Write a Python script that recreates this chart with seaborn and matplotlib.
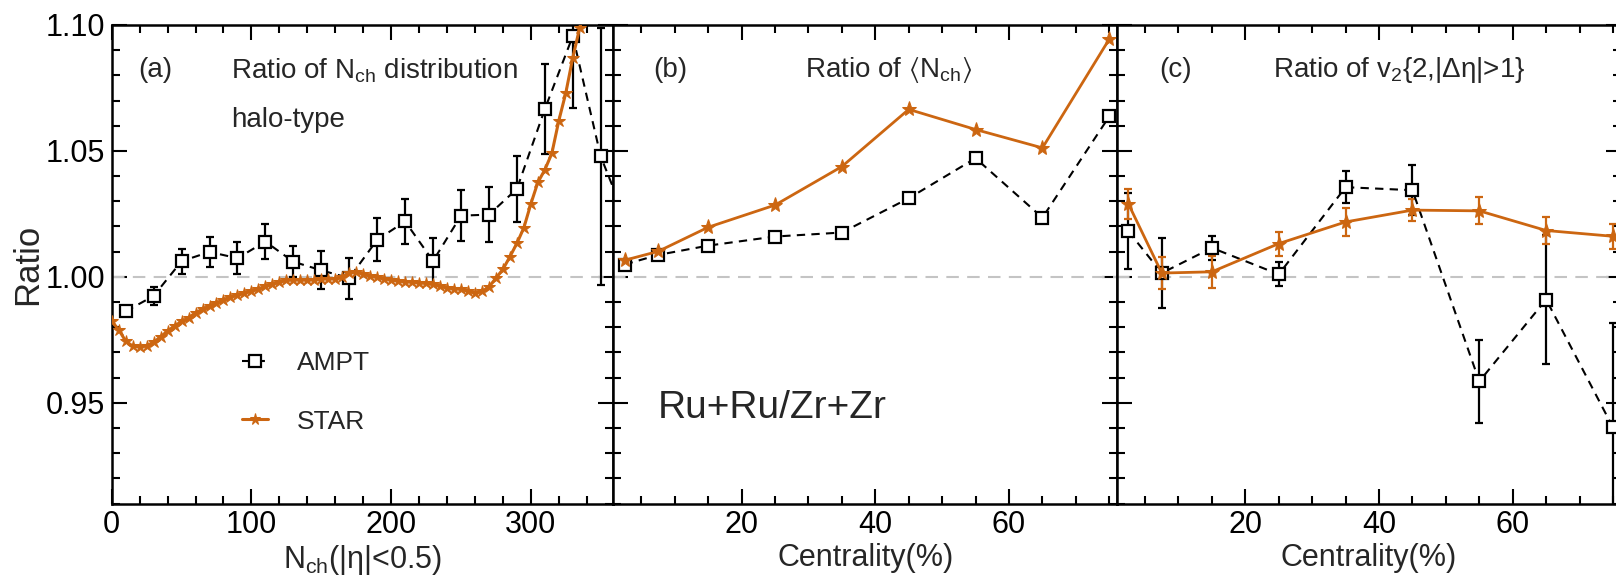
import matplotlib
matplotlib.use("Agg")
import matplotlib.pyplot as plt
import seaborn as sns
import pandas as pd
from matplotlib.ticker import MultipleLocator, FormatStrFormatter

# ---------------- data ----------------
# panel (a): ratio of Nch distribution
nch_ampt = [10, 30, 50, 70, 90, 110, 130, 150, 170, 190, 210, 230, 250, 270, 290, 310, 330, 350, 370]
ratio_ampt_a = [0.9863, 0.9924, 1.0062, 1.0099, 1.0074, 1.0140, 1.0060, 1.0026, 0.9995, 1.0147,
                1.0220, 1.0063, 1.0243, 1.0247, 1.0349, 1.0666, 1.0956, 1.0478, 1.0200]
err_ampt_a = [0.0012, 0.0035, 0.0050, 0.0058, 0.0063, 0.0068, 0.0062, 0.0075, 0.0081, 0.0085,
              0.0090, 0.0090, 0.0100, 0.0110, 0.0130, 0.0178, 0.0287, 0.0512, 0.0500]

nch_star = [0, 5, 10, 15, 20, 25, 30, 35, 40, 45, 50, 55, 60, 65, 70, 75, 80, 85, 90, 95,
            100, 105, 110, 115, 120, 125, 130, 135, 140, 145, 150, 155, 160, 165, 170, 175,
            180, 185, 190, 195, 200, 205, 210, 215, 220, 225, 230, 235, 240, 245, 250, 255,
            260, 265, 270, 275, 280, 285, 290, 295, 300, 305, 310, 315, 320, 325, 330, 335,
            340, 345]
ratio_star_a = [0.9823, 0.9790, 0.9745, 0.9725, 0.9723, 0.9727, 0.9740, 0.9762, 0.9785, 0.9805,
                0.9823, 0.9838, 0.9857, 0.9872, 0.9885, 0.9897, 0.9910, 0.9920, 0.9928, 0.9936,
                0.9945, 0.9953, 0.9962, 0.9970, 0.9980, 0.9986, 0.9988, 0.9988, 0.9987, 0.9989,
                0.9991, 0.9993, 0.9992, 1.0000, 1.0016, 1.0020, 1.0012, 1.0004, 0.9998, 0.9993,
                0.9988, 0.9984, 0.9981, 0.9979, 0.9977, 0.9974, 0.9970, 0.9963, 0.9957, 0.9953,
                0.9951, 0.9943, 0.9937, 0.9942, 0.9960, 0.9995, 1.0030, 1.0080, 1.0133, 1.0195,
                1.0290, 1.0375, 1.0425, 1.0490, 1.0620, 1.0730, 1.0870, 1.0990, 1.1100, 1.1220]

# panel (b): ratio of <Nch>
centrality = [2.5, 7.5, 15, 25, 35, 45, 55, 65, 75]
ratio_ampt_b = [1.0049, 1.0087, 1.0124, 1.0160, 1.0176, 1.0312, 1.0471, 1.0235, 1.0637]
ratio_star_b = [1.0066, 1.0101, 1.0197, 1.0285, 1.0438, 1.0665, 1.0585, 1.0512, 1.0944]

# panel (c): ratio of v2{2,|deta|>1}
ratio_ampt_c = [1.0181, 1.0015, 1.0115, 1.0010, 1.0356, 1.0344, 0.9585, 0.9910, 0.9402]
err_ampt_c = [0.0150, 0.0140, 0.0048, 0.0048, 0.0063, 0.0100, 0.0165, 0.0255, 0.0416]
ratio_star_c = [1.0290, 1.0015, 1.0020, 1.0132, 1.0218, 1.0265, 1.0262, 1.0184, 1.0161]
err_star_c = [0.0060, 0.0063, 0.0063, 0.0048, 0.0054, 0.0045, 0.0054, 0.0054, 0.0050]

panel_tags = ["(a)", "(b)", "(c)"]
panel_titles = ["Ratio of N$_{\\mathrm{ch}}$ distribution",
                "Ratio of $\\langle$N$_{\\mathrm{ch}}$$\\rangle$",
                "Ratio of v$_{2}${2,|\u0394\u03b7|>1}"]
xlabels = ["N$_{\\mathrm{ch}}$(|\u03b7|<0.5)", "Centrality(%)", "Centrality(%)"]

# ---------------- style ----------------
sns.set_theme(style="ticks")
plt.rcParams["font.family"] = ["Liberation Sans", "DejaVu Sans"]
plt.rcParams["mathtext.fontset"] = "custom"
plt.rcParams["mathtext.rm"] = "Liberation Sans"
plt.rcParams["mathtext.it"] = "Liberation Sans:italic"
plt.rcParams["mathtext.bf"] = "Liberation Sans:bold"
plt.rcParams["mathtext.fallback"] = "stixsans"

ORANGE = "#cc6611"
BLACK = "black"
GREY = "#c4c4c4"

fig = plt.figure(figsize=(16.16, 5.84), dpi=100)
W = 504 / 1616
B = (584 - 503.5) / 584
H = 478.5 / 584
lefts = [111.7 / 1616, 613.3 / 1616, 1117.0 / 1616]
axes = [fig.add_axes([l, B, W if i else 501.6 / 1616, H]) for i, l in enumerate(lefts)]

ampt_kw = dict(color=BLACK, linestyle=(0, (4, 3)), linewidth=1.5, marker="s",
               markersize=9, markerfacecolor="white", markeredgecolor=BLACK,
               markeredgewidth=1.6)
star_kw = dict(color=ORANGE, linestyle="-", linewidth=2.0, marker="*",
               markersize=11, markerfacecolor=ORANGE, markeredgecolor=ORANGE)

for ax in axes:
    ax.axhline(1.0, color=GREY, linestyle=(0, (6, 4)), linewidth=1.5, zorder=1)

# panel (a)
ax = axes[0]
df_a_ampt = pd.DataFrame({"x": nch_ampt, "y": ratio_ampt_a})
df_a_star = pd.DataFrame({"x": nch_star, "y": ratio_star_a})
ax.errorbar(nch_ampt, ratio_ampt_a, yerr=err_ampt_a, fmt="none", ecolor=BLACK,
            elinewidth=1.6, capsize=3, capthick=1.6, zorder=2)
sns.lineplot(data=df_a_ampt, x="x", y="y", ax=ax, label="AMPT", zorder=3, **ampt_kw)
sns.lineplot(data=df_a_star, x="x", y="y", ax=ax, label="STAR", zorder=4,
             **{**star_kw, "markersize": 9, "linewidth": 2.2})
ax.set_xlim(0, 359)
ax.xaxis.set_major_locator(MultipleLocator(100))
ax.xaxis.set_minor_locator(MultipleLocator(20))
ax.legend(loc="center left", bbox_to_anchor=(0.259, 0.232), frameon=False,
          fontsize=19, handlelength=1.0, handletextpad=1.1, labelspacing=1.3,
          borderpad=0, borderaxespad=0, markerscale=0.9)
ax.text(0.238, 0.801, "halo-type", transform=ax.transAxes, fontsize=20,
        ha="left", va="center")

# panel (b)
ax = axes[1]
df_b = pd.DataFrame({"x": centrality, "ampt": ratio_ampt_b, "star": ratio_star_b})
sns.lineplot(data=df_b, x="x", y="ampt", ax=ax, zorder=3, **ampt_kw)
sns.lineplot(data=df_b, x="x", y="star", ax=ax, zorder=4, **star_kw)
ax.text(0.089, 0.20, "Ru+Ru/Zr+Zr", transform=ax.transAxes, fontsize=28,
        ha="left", va="center")

# panel (c)
ax = axes[2]
df_c = pd.DataFrame({"x": centrality, "ampt": ratio_ampt_c, "star": ratio_star_c})
ax.errorbar(centrality, ratio_ampt_c, yerr=err_ampt_c, fmt="none", ecolor=BLACK,
            elinewidth=1.6, capsize=3, capthick=1.6, zorder=2)
ax.errorbar(centrality, ratio_star_c, yerr=err_star_c, fmt="none", ecolor=ORANGE,
            elinewidth=1.6, capsize=3, capthick=1.6, zorder=2)
sns.lineplot(data=df_c, x="x", y="ampt", ax=ax, zorder=3, **ampt_kw)
sns.lineplot(data=df_c, x="x", y="star", ax=ax, zorder=4, **star_kw)

for ax in axes[1:]:
    ax.set_xlim(0.8, 76.2)
    ax.xaxis.set_major_locator(MultipleLocator(20))
    ax.xaxis.set_minor_locator(MultipleLocator(5))

tag_x = [0.053, 0.079, 0.084]
title_x = [0.238, 0.380, 0.310]
for i, ax in enumerate(axes):
    ax.set_ylim(0.91, 1.10)
    ax.yaxis.set_major_locator(MultipleLocator(0.05))
    ax.yaxis.set_minor_locator(MultipleLocator(0.01))
    ax.yaxis.set_major_formatter(FormatStrFormatter("%.2f"))
    ax.tick_params(which="both", direction="in", top=True, right=True, width=1.5,
                   labelsize=22, pad=5, colors="black")
    ax.tick_params(which="major", length=11)
    ax.tick_params(which="minor", length=6)
    for s in ax.spines.values():
        s.set_linewidth(1.8)
        s.set_color("black")
    if i > 0:
        ax.tick_params(axis="y", labelleft=False)
        ax.set_ylabel("")
    else:
        ax.set_ylabel("Ratio", fontsize=25, labelpad=1)
    ax.set_xlabel(xlabels[i], fontsize=22, labelpad=2)
    ax.text(tag_x[i], 0.905, panel_tags[i], transform=ax.transAxes, fontsize=20,
            ha="left", va="center")
    ax.text(title_x[i], 0.905, panel_titles[i], transform=ax.transAxes, fontsize=20,
            ha="left", va="center")
    ax.set_facecolor("white")

fig.savefig("out.png", dpi=100, facecolor="white")
